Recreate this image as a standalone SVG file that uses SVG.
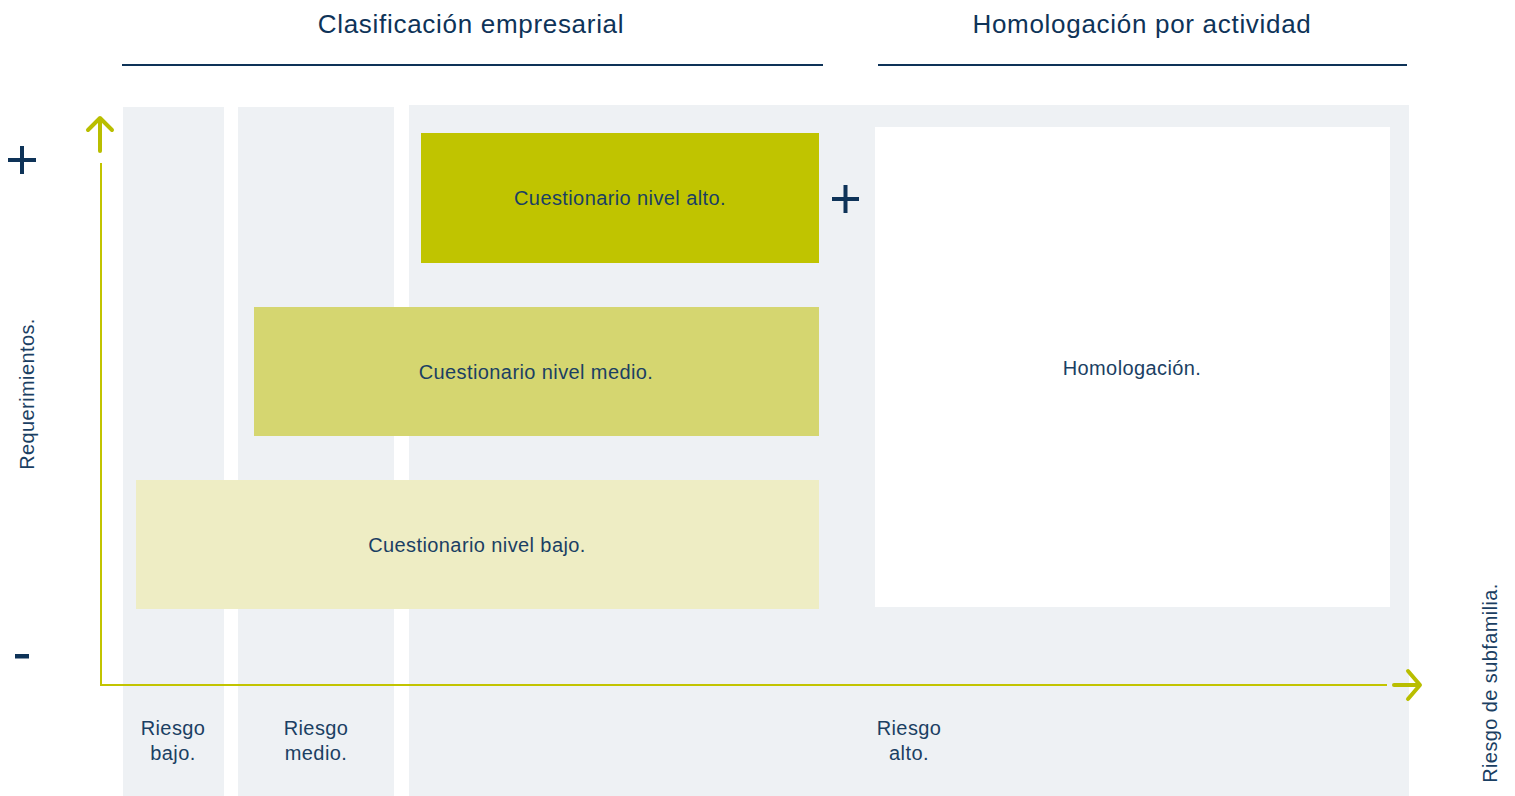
<svg xmlns="http://www.w3.org/2000/svg" width="1515" height="796" viewBox="0 0 1515 796">
<style>
.t{font-family:"Liberation Sans",Arial,sans-serif;fill:#1b3f63;font-size:20px;letter-spacing:0.4px;text-anchor:middle}
.h{font-family:"Liberation Sans",Arial,sans-serif;fill:#0e3358;font-size:26px;letter-spacing:0.7px;text-anchor:middle}
.col{fill:#eef1f4}
.ax{stroke:#c2c400;stroke-width:2;fill:none}
.ah{stroke:#b9be00;stroke-width:4;fill:none;stroke-linecap:round;stroke-linejoin:round}
.sign{stroke:#0e3358;stroke-width:4;fill:none}
</style>
<rect width="1515" height="796" fill="#ffffff"/>
<g id="headers">
<text class="h" x="471" y="33">Clasificación empresarial</text>
<line x1="122" y1="65" x2="823" y2="65" stroke="#0e3358" stroke-width="2"/>
<text class="h" x="1142" y="33">Homologación por actividad</text>
<line x1="878" y1="65" x2="1407" y2="65" stroke="#0e3358" stroke-width="2"/>
</g>
<g id="columns">
<rect class="col" x="123" y="107" width="101" height="689"/>
<rect class="col" x="238" y="107" width="156" height="689"/>
<rect class="col" x="409" y="105" width="1000" height="691"/>
</g>
<g id="node-alto">
<rect x="421" y="133" width="398" height="130" fill="#c0c400"/>
<text class="t" x="620" y="205">Cuestionario nivel alto.</text>
</g>
<g id="node-medio">
<rect x="254" y="307" width="565" height="129" fill="#d5d670"/>
<text class="t" x="536" y="379">Cuestionario nivel medio.</text>
</g>
<g id="node-bajo">
<rect x="136" y="480" width="683" height="129" fill="#eeedc4"/>
<text class="t" x="477" y="552">Cuestionario nivel bajo.</text>
</g>
<g id="node-homologacion">
<rect x="875" y="127" width="515" height="480" fill="#ffffff"/>
<text class="t" x="1132" y="375">Homologación.</text>
</g>
<g id="connectors">
<polyline class="ax" points="101,163 101,685 1387,685"/>
<line class="ah" x1="100" y1="119" x2="100" y2="151"/>
<polyline class="ah" points="88,130 100,118 112,130"/>
<line class="ah" x1="1394" y1="685" x2="1418" y2="685"/>
<polyline class="ah" points="1408,671 1420,685 1408,699"/>
</g>
<g id="signs">
<path class="sign" d="M8 160h28M22 146v28"/>
<path class="sign" d="M832 199h27M845.5 185v28"/>
<rect x="15" y="654" width="14" height="4.5" fill="#0e3358"/>
</g>
<g id="axis-labels">
<text class="t" transform="translate(34,394) rotate(-90)">Requerimientos.</text>
<text class="t" transform="translate(1497,683) rotate(-90)">Riesgo de subfamilia.</text>
<text class="t" x="173" y="735">Riesgo</text>
<text class="t" x="173" y="760">bajo.</text>
<text class="t" x="316" y="735">Riesgo</text>
<text class="t" x="316" y="760">medio.</text>
<text class="t" x="909" y="735">Riesgo</text>
<text class="t" x="909" y="760">alto.</text>
</g>
</svg>
